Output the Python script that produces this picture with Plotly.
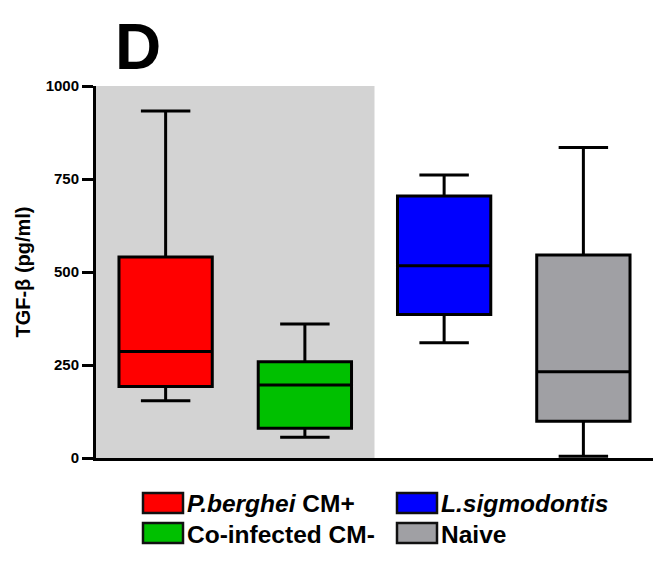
import plotly.graph_objects as go

groups = ["P.berghei CM+", "Co-infected CM-", "L.sigmodontis", "Naive"]
legend_labels = ["<i>P.berghei</i> CM+", "Co-infected CM-", "<i>L.sigmodontis</i>", "Naive"]
colors = ["#FF0000", "#00C000", "#0000FF", "#A0A0A4"]
lower_whisker = [154, 56, 310, 5]
q1_vals = [192, 80, 386, 99]
median_vals = [286, 196, 517, 232]
q3_vals = [540, 259, 704, 546]
upper_whisker = [933, 360, 761, 835]
y_ticks = [0, 250, 500, 750, 1000]

fig = go.Figure()
for i, g in enumerate(groups):
    fig.add_trace(go.Box(
        x=[i], q1=[q1_vals[i]], median=[median_vals[i]], q3=[q3_vals[i]],
        lowerfence=[lower_whisker[i]], upperfence=[upper_whisker[i]],
        name=g, fillcolor=colors[i], line=dict(color="black", width=3),
        width=0.67, whiskerwidth=0.53, boxpoints=False, showlegend=False,
        hoverinfo="skip"))

# shaded region behind the malaria groups
fig.add_shape(type="rect", xref="x", yref="y", x0=-0.5, x1=1.5, y0=0, y1=1000,
              fillcolor="#D3D3D3", line=dict(width=0), layer="below")

OFF = 8  # page body margin
L, T, W, H = 96 - OFF, 86 - OFF, 557, 372
def px(xp):
    return (xp - OFF - L) / W
def py(yp):
    return (T + H - (yp - OFF)) / H

# manual legend
legend_pos = [(143, 503), (143, 533), (397, 503), (397, 533)]
for i, (lx, ly) in enumerate(legend_pos):
    fig.add_shape(type="rect", xref="paper", yref="paper",
                  x0=px(lx), x1=px(lx + 40), y0=py(ly + 10), y1=py(ly - 10),
                  fillcolor=colors[i], line=dict(color="#111111", width=2.5))
    fig.add_annotation(xref="paper", yref="paper", x=px(lx + 42), y=py(ly + 1),
                       xanchor="left", yanchor="middle", showarrow=False,
                       text=legend_labels[i],
                       font=dict(size=24.5, color="black", weight="bold"))

fig.add_annotation(xref="paper", yref="paper", x=px(113), y=py(9),
                   xanchor="left", yanchor="top", showarrow=False,
                   text="D", font=dict(size=64, color="black", weight="bold"))

fig.update_layout(
    width=661, height=562,
    margin=dict(l=L, r=661 - L - W, t=T, b=562 - T - H),
    paper_bgcolor="white", plot_bgcolor="white",
    font=dict(family="Liberation Sans, Arial, sans-serif", color="black"),
    boxmode="overlay",
    xaxis=dict(range=[-0.5, 3.5], showticklabels=False, ticks="", showgrid=False,
               zeroline=False, showline=True, linecolor="black", linewidth=3),
    yaxis=dict(range=[0, 1000], tickvals=y_ticks, ticks="outside", ticklen=11,
               tickwidth=3, tickcolor="black", showgrid=False, zeroline=False,
               showline=True, linecolor="black", linewidth=3,
               tickfont=dict(size=15, weight="bold"),
               title=dict(text="TGF-β (pg/ml)", font=dict(size=20, weight="bold"),
                          standoff=10)),
)

fig.write_html("out.html")
